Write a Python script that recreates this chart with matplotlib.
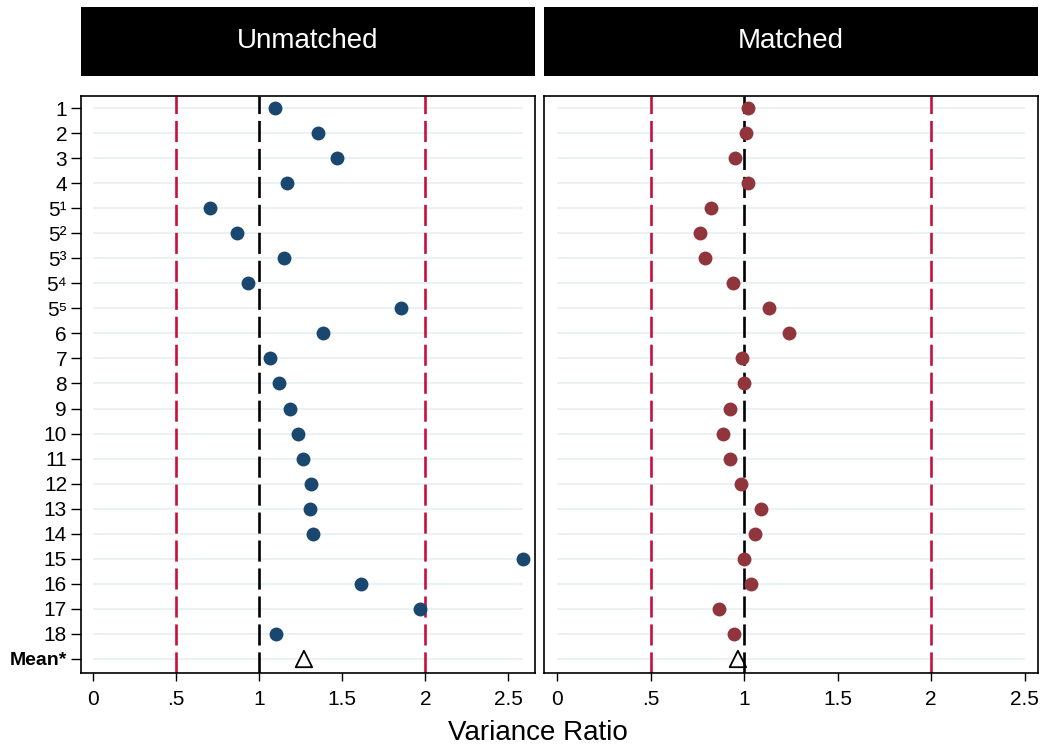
import numpy as np
import matplotlib.pyplot as plt

plt.rcParams['font.family'] = ['Liberation Sans', 'DejaVu Sans']

# row labels (top to bottom)
labels = ['1', '2', '3', '4', '5¹', '5²', '5³', '5⁴', '5⁵', '6', '7', '8', '9',
          '10', '11', '12', '13', '14', '15', '16', '17', '18', 'Mean*']

# variance ratios
unmatched = [1.096, 1.352, 1.468, 1.169, 0.701, 0.864, 1.149, 0.934, 1.854,
             1.384, 1.062, 1.119, 1.185, 1.231, 1.261, 1.311, 1.304, 1.325,
             2.587, 1.613, 1.968, 1.099]
unmatched_mean = 1.269

matched = [1.021, 1.011, 0.952, 1.021, 0.824, 0.762, 0.792, 0.939, 1.134,
           1.237, 0.989, 1.000, 0.925, 0.888, 0.925, 0.982, 1.088, 1.057,
           0.997, 1.034, 0.865, 0.943]
matched_mean = 0.966

xticks = [0, 0.5, 1, 1.5, 2, 2.5]
xticklabels = ['0', '.5', '1', '1.5', '2', '2.5']

panels = [
    ('Unmatched', unmatched, unmatched_mean, '#1a476f', (-0.074, 2.661)),
    ('Matched', matched, matched_mean, '#90353b', (-0.071, 2.571)),
]

W, H = 1042, 747
fig = plt.figure(figsize=(W / 100, H / 100), dpi=100)

boxes = [(81, 535), (544, 1038)]
ax_top, ax_bot = 96, 673
hd_top, hd_bot = 7, 76

red = '#c8103c'
grid_col = '#eaf2f3'
n = len(labels)
rows = np.arange(n)

for i, (title, vals, mean, col, xlim) in enumerate(panels):
    x0, x1 = boxes[i]
    ax = fig.add_axes([x0 / W, 1 - ax_bot / H, (x1 - x0) / W, (ax_bot - ax_top) / H])
    hd = fig.add_axes([x0 / W, 1 - hd_bot / H, (x1 - x0) / W, (hd_bot - hd_top) / H])

    # header strip
    hd.set_facecolor('black')
    hd.set_xticks([])
    hd.set_yticks([])
    for s in hd.spines.values():
        s.set_visible(False)
    hd.text(0.5, 0.5, title, color='white', fontsize=20, ha='center', va='center',
            transform=hd.transAxes)

    # grid lines
    gmax = max(2.5, max(vals))
    ax.hlines(rows, 0, gmax, color=grid_col, lw=1.5, zorder=1)

    # reference lines
    dash = (0, (8, 2.6))
    for xv, c in [(0.5, red), (2, red), (1, 'black')]:
        ax.axvline(xv, color=c, lw=1.9, linestyle=dash, zorder=2)

    ax.scatter(vals, rows[:-1], s=100, color=col, zorder=3, linewidths=0)
    ax.scatter([mean], [rows[-1]], s=140, marker='^', facecolor='none',
               edgecolor='black', linewidths=1.3, zorder=4)

    ax.set_xlim(*xlim)
    ax.set_ylim(22.56, -0.48)
    ax.set_xticks(xticks)
    ax.set_xticklabels(xticklabels, fontsize=15)
    ax.tick_params(axis='x', direction='out', length=6, width=1, pad=6)

    if i == 0:
        ax.set_yticks(rows)
        ax.set_yticklabels(labels, fontsize=15)
        ax.get_yticklabels()[-1].set_fontweight('bold')
        ax.get_yticklabels()[-1].set_fontsize(14)
        ax.tick_params(axis='y', direction='out', length=7, width=1, pad=3)
    else:
        ax.set_yticks([])

    for s in ax.spines.values():
        s.set_linewidth(1.2)

fig.text(538 / W, 1 - 733 / H, 'Variance Ratio', fontsize=20, ha='center', va='center')

fig.savefig('out.png', dpi=100)
